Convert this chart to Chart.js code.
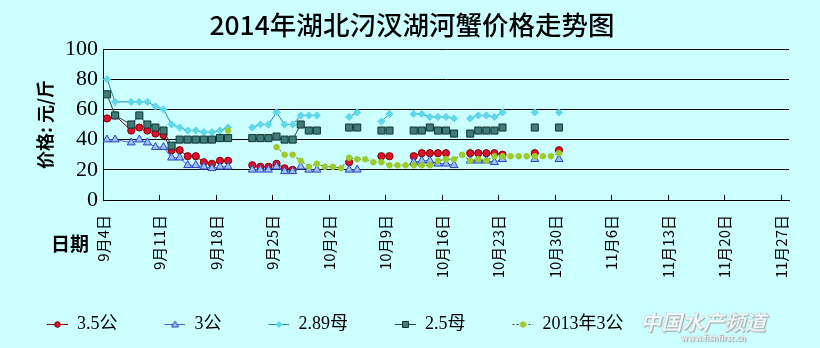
<!DOCTYPE html>
<html lang="zh-CN">
<head>
<meta charset="UTF-8" />
<title>2014年湖北汈汊湖河蟹价格走势图</title>
<script src="https://cdn.jsdelivr.net/npm/chart.js"></script>
<style>
    html, body { margin: 0; padding: 0; background: #ccffff; }
    .quadro { position: relative; width: 820px; height: 348px; overflow: hidden; }
    #grafico { position: absolute; left: 0; top: 0; }
    #titulo {
        position: absolute; left: 0; width: 820px; top: 5px; text-align: center;
        font-family: 'Noto Sans CJK SC', sans-serif; font-size: 26px; font-weight: 500;
        color: #000; transform: translateX(2px) scaleX(1.02); white-space: nowrap;
    }
    #rotulo-x {
        position: absolute; left: 51px; top: 229px;
        font-family: 'Noto Sans CJK SC', sans-serif; font-size: 19px; font-weight: 700; color: #000;
    }
    #marca {
        position: absolute; left: 640px; top: 309px; color: #eef6f6;
        font-family: 'Noto Sans CJK SC', sans-serif; font-size: 21px; font-weight: 700; font-style: italic;
        text-shadow: 0 0 1px #8a9a9a, 1px 1px 1px #9aaaaa; line-height: 24px;
    }
    #marca small { display: block; font-size: 8px; line-height: 10px; text-align: right; padding-right: 20px; font-style: normal; }
</style>
</head>
<body>
<div class="quadro">
    <canvas id="grafico" width="820" height="348"></canvas>
    <div id="titulo">2014年湖北汈汊湖河蟹价格走势图</div>
    <div id="rotulo-x">日期</div>
    <div id="marca">中国水产频道<small>www.fishfirst.cn</small></div>
</div>

<script>
    // dias contados a partir de 9月4日 (índice 0); o dia 2 (9月6日) não existe na tabela
    const diasAusentes = [2];
    const rotulosEixo = ['9月4日', '9月11日', '9月18日', '9月25日', '10月2日', '10月9日', '10月16日',
        '10月23日', '10月30日', '11月6日', '11月13日', '11月20日', '11月27日'];
    const nomesSeries = ['3.5公', '3公', '2.89母', '2.5母', '2013年3公'];

    const gong35 = [54, 56, null, 46, 48, 46, 44, 43, 33, 33, 29, 29, 25, 24, 26, 26, null, null,
        23, 22, 22, 24, 21, 20, null, null, null, null, null, null, 25, null, null, null, 29, 29, null, null,
        29, 31, 31, 31, 31, null, null, 31, 31, 31, 31, 30, null, null, null, 31, null, null, 33];
    const gong3 = [40, 40, null, 38, 40, 38, 35, 35, 28, 28, 23, 23, 22, 21, 22, 22, null, null,
        20, 20, 20, 22, 19, 19, 22, 20, 20, null, null, null, 20, 20, null, null, null, null, null, null,
        25, 26, 26, 24, 24, 23, null, 26, 26, 26, 25, 27, null, null, null, 27, null, null, 27];
    const mu289 = [80, 65, null, 65, 65, 65, 62, 60, 50, 48, 46, 46, 45, 45, 46, 48, null, null,
        48, 50, 50, 58, 50, 50, 56, 56, 56, null, null, null, 55, 58, null, null, 52, 57, null, null,
        57, 57, 55, 55, 55, 54, null, 54, 56, 56, 55, 58, null, null, null, 58, null, null, 58];
    const mu25 = [70, 56, null, 50, 56, 50, 48, 46, 36, 40, 40, 40, 40, 40, 41, 41, null, null,
        41, 41, 41, 42, 40, 40, 50, 46, 46, null, null, null, 48, 48, null, null, 46, 46, null, null,
        46, 46, 48, 46, 46, 44, null, 44, 46, 46, 46, 48, null, null, null, 48, null, null, 48];
    const gong3de2013 = [null, null, null, null, null, null, null, null, null, null, null, null, null, null, null, 46, null, null,
        null, null, null, 35, 30, 30, 26, 22, 24, 22, 22, 21, 28, 27, 27, 25, 25, 23, 23, 23,
        23, 23, 23, 26, 27, 27, 30, 26, 27, 26, 29, 29, 29, 29, 29, 29, 29, 29, 31];

    const valoresTicks = rotulosEixo.map((r, i) => i * 7 - 0.5);

    function pontos(valores) {
        return valores
            .map((v, d) => ({ x: d, y: v }))
            .filter(p => !diasAusentes.includes(p.x));
    }

    // ícone da legenda: traço + marcador
    function criaIcone(cor, preench, borda, estilo, tracejado) {
        const c = document.createElement('canvas');
        c.width = 58; c.height = 14;
        const g = c.getContext('2d');
        g.strokeStyle = cor; g.lineWidth = 1;
        g.setLineDash(tracejado || []);
        g.beginPath(); g.moveTo(37, 7.5); g.lineTo(58, 7.5); g.stroke();
        g.setLineDash([]);
        g.fillStyle = preench; g.strokeStyle = borda;
        const cx = 47.5, cy = 7.5;
        g.beginPath();
        if (estilo === 'circle') g.arc(cx, cy, 2.8, 0, Math.PI * 2);
        else if (estilo === 'triangle') { g.moveTo(cx, cy - 3.5); g.lineTo(cx + 3.5, cy + 2.5); g.lineTo(cx - 3.5, cy + 2.5); g.closePath(); }
        else if (estilo === 'rectRot') { g.moveTo(cx, cy - 3); g.lineTo(cx + 3, cy); g.lineTo(cx, cy + 3); g.lineTo(cx - 3, cy); g.closePath(); }
        else g.rect(cx - 3, cy - 3, 6, 6);
        g.fill(); g.stroke();
        return c;
    }

    const estilos = [
        { linha: '#800000', fundo: '#e0102c', borda: '#800000', ponto: 'circle', raio: 3.6 },
        { linha: '#3c5fd0', fundo: '#9cc0f0', borda: '#2a44c0', ponto: 'triangle', raio: 4.6 },
        { linha: '#1b8aa0', fundo: '#5fd8ec', borda: '#5fd8ec', ponto: 'rectRot', raio: 3.6 },
        { linha: '#1f4f4f', fundo: '#3e7c78', borda: '#133535', ponto: 'rect', raio: 5 },
        { linha: '#3a4a10', fundo: '#9ccc2c', borda: '#9ccc2c', ponto: 'circle', raio: 2.8, tracejado: [2, 2] }
    ];
    const series = [gong35, gong3, mu289, mu25, gong3de2013];
    const icones = estilos.map(e => criaIcone(e.linha, e.fundo, e.borda, e.ponto, e.tracejado));

    const marcasX = {
        id: 'marcasX',
        afterDraw(chart) {
            const { ctx, chartArea, scales: { x } } = chart;
            ctx.save();
            ctx.strokeStyle = '#000';
            ctx.lineWidth = 1;
            x.ticks.forEach(t => {
                const px = Math.round(x.getPixelForValue(t.value)) + 0.5;
                ctx.beginPath();
                ctx.moveTo(px, chartArea.bottom);
                ctx.lineTo(px, chartArea.bottom - 5);
                ctx.stroke();
            });
            ctx.restore();
        }
    };

    new Chart(document.getElementById('grafico').getContext('2d'), {
        type: 'line',
        data: {
            datasets: series.map((s, i) => ({
                label: nomesSeries[i],
                data: pontos(s),
                borderColor: estilos[i].linha,
                backgroundColor: estilos[i].fundo,
                borderWidth: 1,
                borderDash: estilos[i].tracejado || [],
                pointStyle: estilos[i].ponto,
                pointRadius: estilos[i].raio,
                pointBackgroundColor: estilos[i].fundo,
                pointBorderColor: estilos[i].borda,
                pointBorderWidth: 1,
                spanGaps: false,
                tension: 0,
                order: 5 - i
            }))
        },
        options: {
            responsive: false,
            animation: false,
            layout: { padding: { top: 49, right: 31, bottom: 5, left: 0 } },
            plugins: {
                title: { display: false },
                tooltip: { enabled: false },
                legend: {
                    position: 'bottom',
                    align: 'start',
                    labels: {
                        usePointStyle: true,
                        pointStyleWidth: 58,
                        boxHeight: 14,
                        padding: 10,
                        color: '#000',
                        font: { family: "'Liberation Serif', 'Noto Sans CJK SC'", size: 18 },
                        sort: (a, b) => a.datasetIndex - b.datasetIndex,
                        generateLabels(chart) {
                            const itens = Chart.defaults.plugins.legend.labels.generateLabels(chart);
                            itens.forEach(it => { it.pointStyle = icones[it.datasetIndex]; });
                            return itens;
                        }
                    }
                }
            },
            scales: {
                x: {
                    type: 'linear',
                    min: -0.5,
                    max: 84.5,
                    afterBuildTicks(eixo) { eixo.ticks = valoresTicks.map(v => ({ value: v })); },
                    afterFit(eixo) { eixo.height = 105; },
                    grid: { display: false },
                    border: { display: true, color: '#000', width: 1 },
                    ticks: {
                        autoSkip: false,
                        minRotation: 90,
                        maxRotation: 90,
                        padding: 7,
                        color: '#000',
                        font: { family: "'Noto Sans CJK SC'", size: 15 },
                        callback: v => rotulosEixo[Math.round((v + 0.5) / 7)]
                    }
                },
                y: {
                    min: 0,
                    max: 100,
                    afterFit(eixo) { eixo.width = 103; },
                    grid: { color: '#000', lineWidth: 1, drawTicks: false },
                    border: { display: true, color: '#000', width: 1 },
                    ticks: {
                        stepSize: 20,
                        padding: 5,
                        color: '#000',
                        font: { family: "'Liberation Serif'", size: 22 }
                    },
                    title: {
                        display: true,
                        text: '价格: 元/斤',
                        color: '#000',
                        padding: { top: 34, bottom: 0 },
                        font: { family: "'Noto Sans CJK SC'", size: 18, weight: 'bold' }
                    }
                }
            }
        },
        plugins: [marcasX]
    });
</script>
</body>
</html>
